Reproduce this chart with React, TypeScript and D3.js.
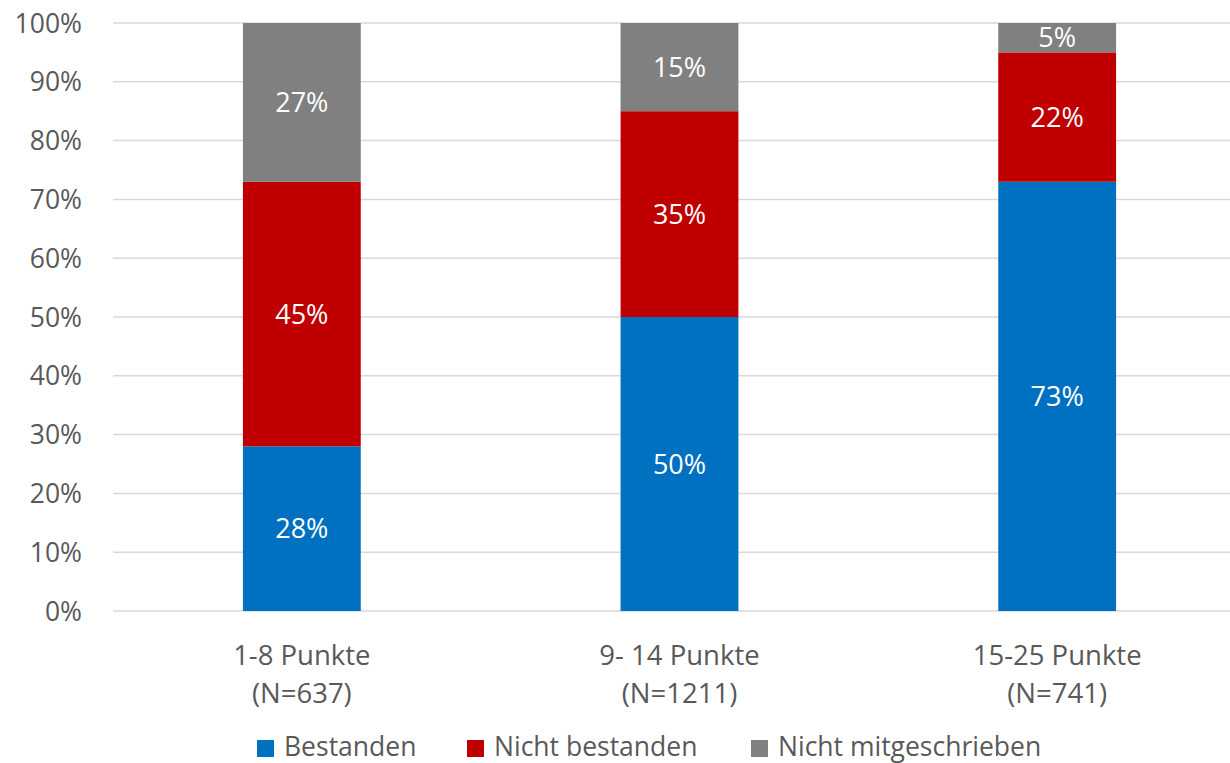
import React from "react";
import * as d3 from "d3";

const categories = ["1-8 Punkte\n(N=637)", "9- 14 Punkte\n(N=1211)", "15-25 Punkte\n(N=741)"];
const seriesNames = ["Bestanden", "Nicht bestanden", "Nicht mitgeschrieben"];
const bestanden = [28, 50, 73];
const nichtBestanden = [45, 35, 22];
const nichtMitgeschrieben = [27, 15, 5];
const seriesColors = ["#0070c0", "#c00000", "#808080"];
const yTicks = [0, 10, 20, 30, 40, 50, 60, 70, 80, 90, 100];

const W = 1230;
const H = 763;
const FONT = "'Open Sans', 'Noto Sans', sans-serif";
const TEXT = "#595959";

export default function App() {
  const x = d3.scaleBand<number>().domain([0, 1, 2]).range([113, 1246]).paddingInner(0.688).paddingOuter(0.344);
  const y = d3.scaleLinear().domain([0, 100]).range([611, 23]);

  const rows = categories.map((c, i) => ({
    i,
    b: bestanden[i],
    n: nichtBestanden[i],
    m: nichtMitgeschrieben[i],
  }));
  const stack = d3.stack<any>().keys(["b", "n", "m"])(rows);

  const legendItems = [
    { name: seriesNames[0], x: 257 },
    { name: seriesNames[1], x: 467 },
    { name: seriesNames[2], x: 751 },
  ];

  return (
    <svg width={W} height={H} style={{ position: "absolute", left: 0, top: 0 }} fontFamily={FONT}>
      <rect width={W} height={H} fill="#fff" />
      {yTicks.map((t) => (
        <g key={t}>
          <line x1={113} x2={W} y1={y(t)} y2={y(t)} stroke="#d9d9d9" strokeWidth={1.5} />
          <text x={82} y={y(t)} dy="0.36em" textAnchor="end" fontSize={26.5} fill={TEXT}>
            {t}%
          </text>
        </g>
      ))}
      {stack.map((s, si) => (
        <g key={si}>
          {s.map((d, i) => {
            const x0 = x(i)!;
            const bw = x.bandwidth();
            const yTop = y(d[1]);
            const yBot = y(d[0]);
            const val = d[1] - d[0];
            return (
              <g key={i}>
                <rect x={x0} y={yTop} width={bw} height={yBot - yTop} fill={seriesColors[si]} />
                <text
                  x={x0 + bw / 2}
                  y={(yTop + yBot) / 2}
                  dy="0.36em"
                  textAnchor="middle"
                  fontSize={27}
                  fill="#fff"
                >
                  {val}%
                </text>
              </g>
            );
          })}
        </g>
      ))}
      {categories.map((c, i) => {
        const lines = c.split("\n");
        const cx = x(i)! + x.bandwidth() / 2;
        return (
          <text key={i} textAnchor="middle" fontSize={27.5} fill={TEXT}>
            {lines.map((l, li) => (
              <tspan key={li} x={cx} y={665 + li * 38}>
                {l}
              </tspan>
            ))}
          </text>
        );
      })}
      {legendItems.map((it, i) => (
        <g key={i}>
          <rect x={it.x} y={740} width={17} height={17} fill={seriesColors[i]} />
          <text x={it.x + 27} y={756} fontSize={26.5} fill={TEXT}>
            {it.name}
          </text>
        </g>
      ))}
    </svg>
  );
}
